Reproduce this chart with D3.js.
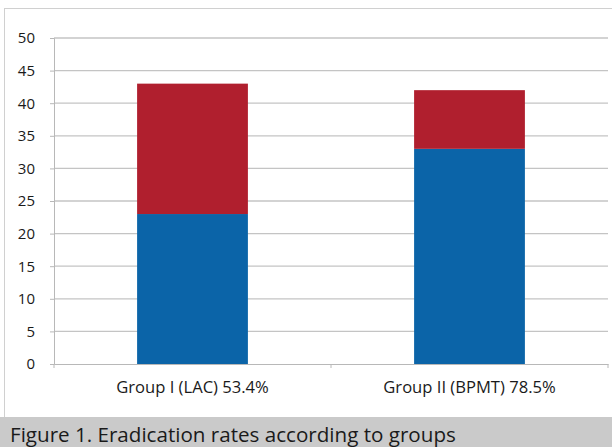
<!DOCTYPE html>
<html>
<head>
<meta charset="utf-8">
<script src="https://d3js.org/d3.v7.min.js"></script>
<style>
	body { margin: 0; background: #fff; }
	svg { display: block; }
</style>
</head>
<body>
<script>
// Chart data
const groups = ['Group I (LAC) 53.4%', 'Group II (BPMT) 78.5%'];
const eradicated = [23, 33];
const notEradicated = [20, 9];
const yTicks = [0, 5, 10, 15, 20, 25, 30, 35, 40, 45, 50];
const caption = 'Figure 1. Eradication rates according to groups';

const width = 612, height = 447;
const margin = { top: 38, right: 4, bottom: 83, left: 54 };
const fontFamily = '"Open Sans", "Noto Sans", sans-serif';

const svg = d3.select('body').append('svg')
	.attr('width', width)
	.attr('height', height);

// Frame around the chart
svg.append('rect')
	.attr('x', 4.5).attr('y', 8.5)
	.attr('width', width).attr('height', 420)
	.attr('fill', '#fff')
	.attr('stroke', '#d0d0d0');

const x = d3.scaleBand()
	.domain(groups)
	.range([margin.left, width - margin.right])
	.paddingInner(0.6)
	.paddingOuter(0.3);

const y = d3.scaleLinear()
	.domain([0, 50])
	.range([height - margin.bottom, margin.top]);

// Gridlines
svg.append('g').selectAll('line')
	.data(yTicks.filter(d => d > 0))
.join('line')
	.attr('x1', margin.left)
	.attr('x2', width - margin.right)
	.attr('y1', d => y(d))
	.attr('y2', d => y(d))
	.attr('stroke', '#c4c4c4')
	.attr('stroke-width', 1.3);

// Y axis
const yAxis = svg.append('g')
	.attr('transform', `translate(${margin.left},0)`)
	.call(d3.axisLeft(y).tickValues(yTicks).tickSize(4).tickPadding(15));
yAxis.select('.domain').attr('stroke', '#b8b8b8');
yAxis.selectAll('.tick line').attr('stroke', '#b8b8b8');
yAxis.selectAll('text')
	.attr('fill', '#1a1a1a')
	.style('font-family', fontFamily)
	.style('font-size', '15px');

// Stacked bars
const stack = groups.map((g, i) => ({ group: g, parts: [
	{ y0: 0, y1: eradicated[i], color: '#0b64a8' },
	{ y0: eradicated[i], y1: eradicated[i] + notEradicated[i], color: '#b01f2e' }
]}));

svg.append('g').selectAll('g')
	.data(stack)
.join('g')
	.selectAll('rect')
	.data(d => d.parts.map(p => Object.assign({ group: d.group }, p)))
.join('rect')
	.attr('x', d => x(d.group))
	.attr('width', x.bandwidth())
	.attr('y', d => y(d.y1))
	.attr('height', d => y(d.y0) - y(d.y1))
	.attr('fill', d => d.color);

// X axis
const xAxis = svg.append('g')
	.attr('transform', `translate(0,${y(0)})`)
	.call(d3.axisBottom(x).tickSize(0).tickPadding(17));
xAxis.select('.domain').attr('stroke', '#b8b8b8');
xAxis.selectAll('text')
	.attr('fill', '#1a1a1a')
	.style('font-family', fontFamily)
	.style('font-size', '16.6px');

// Category boundary ticks
const boundaries = [margin.left, margin.left + (width - margin.left - margin.right) / 2, width - margin.right];
svg.append('g').selectAll('line')
	.data(boundaries)
.join('line')
	.attr('x1', d => d).attr('x2', d => d)
	.attr('y1', y(0)).attr('y2', y(0) + 4)
	.attr('stroke', '#b8b8b8');

// Caption band
svg.append('rect')
	.attr('x', 0).attr('y', 417)
	.attr('width', width).attr('height', height - 417)
	.attr('fill', '#cacaca');

svg.append('text')
	.attr('x', 10)
	.attr('y', 442)
	.attr('fill', '#1a1a1a')
	.style('font-family', fontFamily)
	.style('font-size', '20.6px')
	.text(caption);
</script>
</body>
</html>
